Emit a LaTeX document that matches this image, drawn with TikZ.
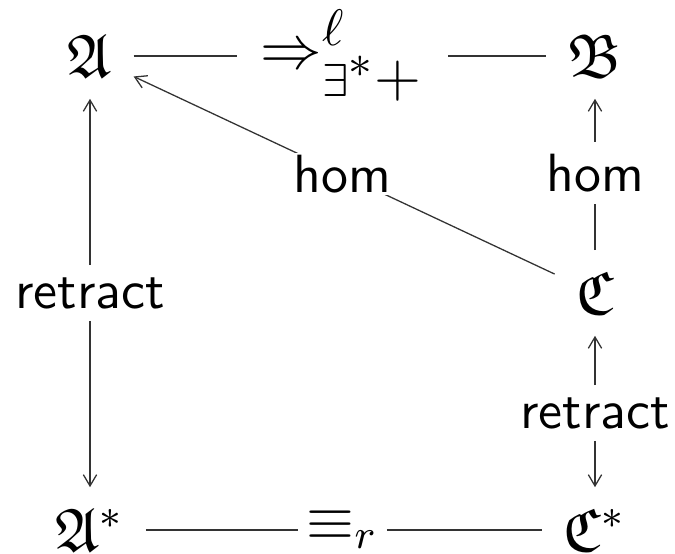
\documentclass[tikz,border=0pt]{standalone}
\usepackage{amssymb}
\usepackage{fontspec}
\usetikzlibrary{arrows.meta}
\tikzset{
  obj/.style={inner sep=4pt, font=\fontsize{12}{14}\selectfont},
  toplabel/.style={inner sep=4.5pt, font=\fontsize{12}{14}\selectfont},
  botlabel/.style={inner sep=1.5pt, font=\fontsize{12}{14}\selectfont},
  lab/.style={inner sep=2.2pt, font=\sffamily\fontsize{10.5}{12}\selectfont},
  diaglab/.style={inner sep=0.3pt, fill=white, font=\sffamily\fontsize{10.5}{12}\selectfont},
  conn/.style={draw=black!80, line width=0.25pt},
  arr/.style={conn, -{Straight Barb[length=2.2pt,width=2.6pt]}}
}
\newcommand{\supsz}[1]{\mbox{\fontsize{10}{12}\selectfont$#1$}}
\newcommand{\subsz}[1]{\mbox{\fontsize{9}{10}\selectfont$#1$}}
\newcommand{\plussz}{\mbox{\fontsize{11.5}{12}\selectfont${+}$}}
\begin{document}
\begin{tikzpicture}[x=0.195pt,y=-0.195pt]
\useasboundingbox (0,0) rectangle (675,554);
% objects
\node[obj] (A)  at (90,56)  {$\mathfrak{A}$};
\node[obj] (B)  at (595,56) {$\mathfrak{B}$};
\node[obj] (C)  at (595,293) {$\mathfrak{C}$};
\node[obj] (As) at (90,530) {$\mathfrak{A}^*$};
\node[obj] (Cs) at (595,530) {$\mathfrak{C}^*$};
% labels breaking lines
\node[toplabel] (Lt) at (342.5,56) {$\Rightarrow^{\supsz{\ell}}_{\subsz{\exists^{\textstyle *}}\plussz}$};
\node[botlabel] (Lb) at (342.5,530) {$\equiv_r$};
\node[lab] (Lra) at (90,293) {retract};
\node[lab] (Lrc) at (595,413) {retract};
\node[lab] (Lhb) at (595,173) {hom};
% connectors
\draw[conn] (A) -- (Lt);
\draw[conn] (Lt) -- (B);
\draw[conn] (As) -- (Lb);
\draw[conn] (Lb) -- (Cs);
\draw[arr] (Lra) -- (A);
\draw[arr] (Lra) -- (As);
\draw[arr] (Lrc) -- (C);
\draw[arr] (Lrc) -- (Cs);
\draw[arr] (Lhb) -- (B);
\draw[conn] (C) -- (Lhb);
\draw[arr] (C) -- (A);
\node[diaglab] (Lhd) at (342,174) {hom};
\end{tikzpicture}
\end{document}
